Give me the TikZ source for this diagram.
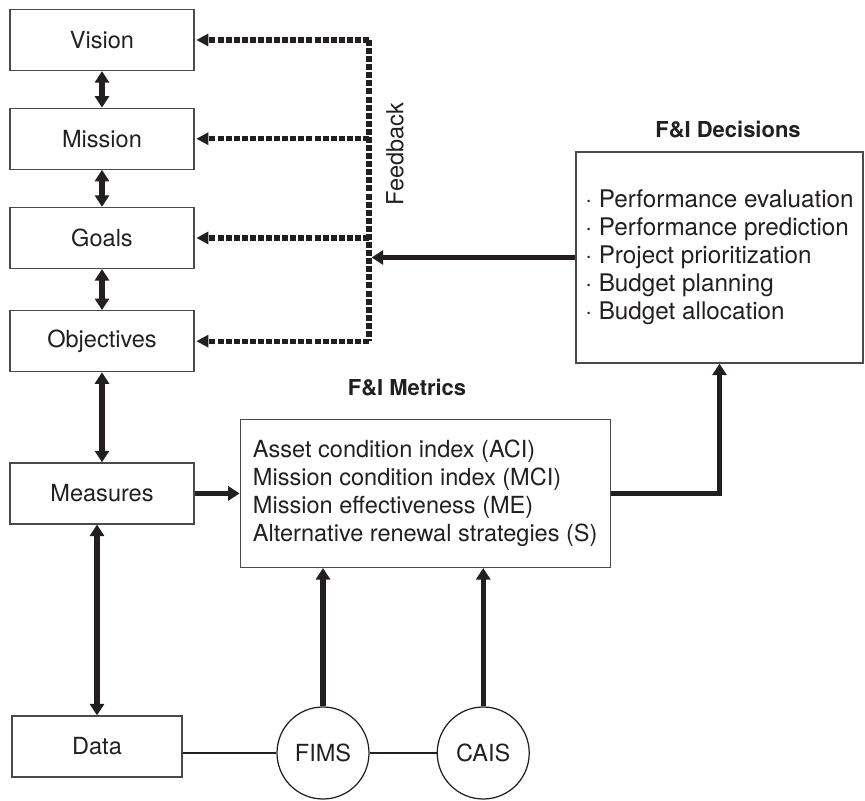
\documentclass[tikz,border=0pt]{standalone}
\usepackage{fontspec}
\setmainfont{TeX Gyre Heros}
\usetikzlibrary{arrows.meta,positioning}
\definecolor{ink}{HTML}{231F20}
\definecolor{rule}{HTML}{4A4A4A}

\begin{document}
\begin{tikzpicture}[
  font=\fontsize{13.4}{15.8}\selectfont,
  text=ink,
  node distance=7.3mm,
  block/.style={draw=rule, line width=0.7pt, minimum width=36.8mm,
    minimum height=12.2mm, inner sep=0pt},
  panel/.style={draw=rule, line width=0.7pt, align=left, inner sep=0pt},
  store/.style={circle, draw=ink, line width=0.7pt, minimum size=18.4mm, inner sep=0pt},
  heading/.style={font=\fontsize{12.5}{15}\selectfont\bfseries},
  link/.style={draw=ink, line width=0.8pt},
  flow/.style={draw=ink, line width=2.9pt, -{Triangle[length=2.3mm,width=2.8mm]}},
  twoway/.style={flow, {Triangle[length=2.3mm,width=2.8mm]}-{Triangle[length=2.3mm,width=2.8mm]}},
  fback/.style={draw=ink, line width=3pt, dash pattern=on 3.4pt off 1.2pt},
  fbarrow/.style={fback, -{Triangle[length=2.4mm,width=2.4mm]}, shorten >=1pt}
]
  \useasboundingbox (0,0) rectangle (17.3,16);

  % planning chain
  \node[block] (vision) at (2.04,15.2) {Vision};
  \node[block, below=of vision] (mission) {Mission};
  \node[block, below=7.4mm of mission] (goals) {Goals};
  \node[block, below=8.2mm of goals] (objectives) {Objectives};
  \node[block, below=18mm of objectives] (measures) {Measures};
  \node[block, minimum width=34mm] (data) at (1.94,1.07) {Data};

  \node[panel, minimum width=74mm, minimum height=29.6mm, right=9mm of measures] (metrics)
    {Asset condition index (ACI)\\Mission condition index (MCI)\\
     Mission effectiveness (ME)\\Alternative renewal strategies (S)};
  \node[panel, minimum width=57.4mm, minimum height=42.2mm,
    font=\fontsize{13.8}{15.9}\selectfont] (decisions) at (14.39,10.85)
    {\textperiodcentered\ Performance evaluation\\\textperiodcentered\ Performance prediction\\
     \textperiodcentered\ Project prioritization\\\textperiodcentered\ Budget planning\\
     \textperiodcentered\ Budget allocation};
  \node[heading] (metricsT) at (8.14,8.24) {F\&I Metrics};
  \node[heading] (decisionsT) at (14.56,13.4) {F\&I Decisions};

  \node[store] (fims) at (6.46,0.94) {FIMS};
  \node[store, right=13.4mm of fims] (cais) {CAIS};

  \draw[twoway] (vision) -- (mission);
  \draw[twoway] (mission) -- (goals);
  \draw[twoway] (goals) -- (objectives);
  \draw[twoway] (objectives) -- (measures);
  \draw[twoway] (measures.south -| data.north) -- (data.north);

  \draw[flow] (measures) -- (metrics);
  \draw[flow] (metrics) -| (decisions);
  \draw[flow] (fims) -- (fims |- metrics.south);
  \draw[flow] (cais) -- (cais |- metrics.south);
  \draw[link] (data.east |- fims) -- (fims) -- (cais);

  % feedback loop
  \coordinate (fb) at (7.38,0);
  \draw[fback] (vision.east -| fb) -- (objectives.east -| fb);
  \foreach \n in {vision,mission,goals,objectives}
    \draw[fbarrow] (\n.east -| fb) -- (\n.east);
  \draw[flow, shorten >=1.5pt] (decisions.west) -- (decisions.west -| fb);
  \node[rotate=90] (fbT) at (7.9,12.92) {Feedback};
\end{tikzpicture}
\end{document}
